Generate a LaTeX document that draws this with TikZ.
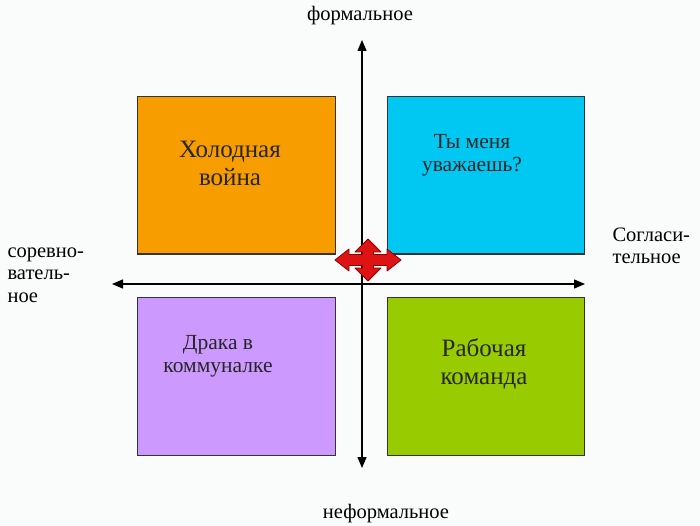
\documentclass[tikz,border=0pt]{standalone}
\usepackage{fontspec}
\setmainfont{Liberation Serif}
\usetikzlibrary{arrows.meta}
\definecolor{bg}{RGB}{250,251,251}
\definecolor{qorange}{RGB}{247,157,0}
\definecolor{qcyan}{RGB}{0,200,242}
\definecolor{qpurple}{RGB}{204,153,255}
\definecolor{qgreen}{RGB}{153,204,0}
\definecolor{qred}{RGB}{222,20,20}
\definecolor{qdarkred}{RGB}{140,0,0}
\begin{document}
\begin{tikzpicture}[x=1pt,y=-1pt,
  quad/.style={draw=black!80,line width=1pt},
  axis/.style={line width=1.3pt,-{Triangle[length=11pt,width=9pt]}},
  big/.style={font=\fontsize{25}{28}\selectfont,align=center,text=black!85},
  small/.style={font=\fontsize{21.5}{23}\selectfont,align=center,text=black!85},
  lab/.style={font=\fontsize{20.5}{22.5}\selectfont,text=black}]
\fill[bg] (0,0) rectangle (700,526);
\useasboundingbox (0,0) rectangle (700,526);
% quadrants
\filldraw[quad,fill=qorange] (137,97) rectangle (335,254);
\filldraw[quad,fill=qcyan] (387,97) rectangle (584,254);
\filldraw[quad,fill=qpurple] (137,297) rectangle (335,455);
\filldraw[quad,fill=qgreen] (387,297) rectangle (584,455);
% axes
\coordinate (c) at (362,284);
\coordinate (top) at (362,40);
\coordinate (bot) at (362,468);
\coordinate (lft) at (112,284);
\coordinate (rgt) at (585,284);
\draw[axis] (c) -- (top);
\draw[axis] (c) -- (bot);
\draw[axis] (c) -- (lft);
\draw[axis] (c) -- (rgt);
% red cross arrow
\filldraw[fill=qred,draw=qdarkred,line width=0.8pt,line join=round,shift={(368,260)}]
  (5.5,-5.5) -- (19,-5.5) -- (19,-11) -- (33,0) -- (19,11) -- (19,5.5) -- (5.5,5.5)
  -- (5.5,8) -- (13,8) -- (0,21) -- (-13,8) -- (-5.5,8) -- (-5.5,5.5)
  -- (-19,5.5) -- (-19,11) -- (-33,0) -- (-19,-11) -- (-19,-5.5) -- (-5.5,-5.5)
  -- (-5.5,-8) -- (-13,-8) -- (0,-21) -- (13,-8) -- (5.5,-8) -- cycle;
% texts
\node[big] (q1) at (230,163) {Холодная\\война};
\node[small] (q2) at (472,155) {Ты меня\\уважаешь?};
\node[small] (q3) at (218,356) {Драка в\\коммуналке};
\node[big] (q4) at (484,364) {Рабочая\\команда};
\node[lab] (t) at (360,16) {формальное};
\node[lab] (b) at (386,514) {неформальное};
\node[lab,anchor=west,align=left] (l) at (4,275) {соревно-\\ватель-\\ное};
\node[lab,anchor=west,align=left] (r) at (609,246) {Согласи-\\тельное};
\end{tikzpicture}
\end{document}
